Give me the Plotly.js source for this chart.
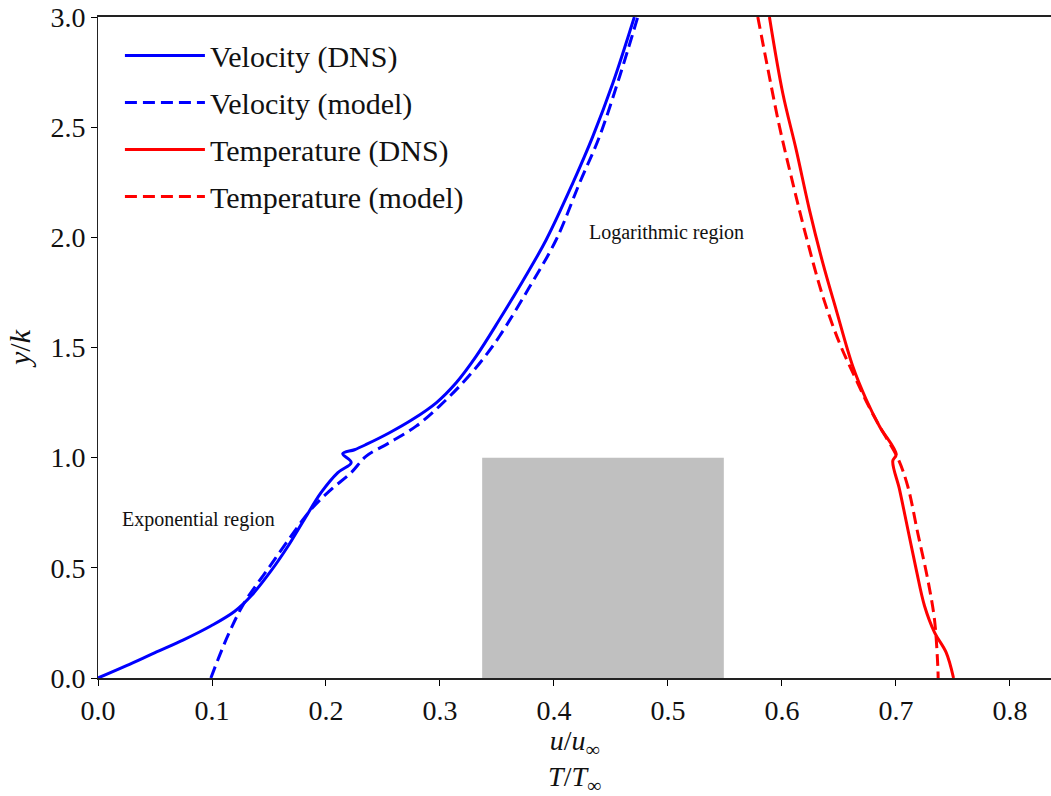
<!DOCTYPE html>
<html>
<head>
<meta charset="utf-8">
<script src="https://cdn.plot.ly/plotly-3.0.1.min.js"></script>
<style>html,body{margin:0;padding:0;background:#fff;}#chart{width:1051px;height:796px;}</style>
</head>
<body>
<div id="chart"></div>
<script>
// Velocity (DNS)
const velDnsX = [0, 0.025, 0.0496, 0.075, 0.0993, 0.12, 0.1344, 0.1519, 0.1665, 0.1811, 0.1958, 0.2104, 0.2221, 0.2147, 0.225, 0.2353, 0.2557, 0.2761, 0.2967, 0.3142, 0.3318, 0.3522, 0.3724, 0.3932, 0.4165, 0.434, 0.4516, 0.4705];
const velDnsY = [0, 0.056, 0.114, 0.173, 0.237, 0.303, 0.373, 0.487, 0.597, 0.721, 0.842, 0.932, 0.978, 1.018, 1.036, 1.060, 1.113, 1.174, 1.249, 1.340, 1.461, 1.627, 1.80, 1.989, 2.246, 2.457, 2.699, 3.0];
// Velocity (model)
const velModX = [0.099, 0.1139, 0.1285, 0.149, 0.1695, 0.187, 0.2046, 0.2221, 0.2353, 0.2557, 0.2791, 0.2996, 0.32, 0.3375, 0.3522, 0.378, 0.4019, 0.4224, 0.4399, 0.4575, 0.4735];
const velModY = [0, 0.192, 0.343, 0.494, 0.645, 0.766, 0.856, 0.932, 1.007, 1.068, 1.143, 1.234, 1.340, 1.446, 1.551, 1.77, 1.989, 2.246, 2.457, 2.729, 3.0];
// Temperature (DNS)
const tempDnsX = [0.589, 0.6007, 0.6125, 0.6241, 0.6358, 0.6475, 0.6621, 0.6739, 0.6855, 0.7002, 0.6972, 0.7031, 0.7104, 0.7177, 0.725, 0.7338, 0.744, 0.7505];
const tempDnsY = [3.0, 2.654, 2.397, 2.125, 1.884, 1.672, 1.415, 1.264, 1.143, 1.015, 0.985, 0.856, 0.675, 0.494, 0.328, 0.207, 0.116, 0];
// Temperature (model)
const tempModX = [0.5788, 0.5861, 0.5978, 0.6095, 0.6212, 0.6358, 0.6504, 0.6636, 0.6745, 0.6855, 0.7016, 0.7104, 0.7191, 0.7279, 0.7338, 0.7367, 0.737];
const tempModY = [3.0, 2.805, 2.503, 2.246, 2.004, 1.733, 1.521, 1.370, 1.25, 1.143, 0.998, 0.869, 0.658, 0.447, 0.265, 0.053, 0];

// Roughness element (grey block)
const blockX = [0.337, 0.549];
const blockY = [0, 1.0];

const seriesNames = ["Velocity (DNS)", "Velocity (model)", "Temperature (DNS)", "Temperature (model)"];
const regionLabels = ["Exponential region", "Logarithmic region"];
const regionX = [0.019, 0.429];
const regionY = [0.72, 2.02];

const SERIF = "Liberation Serif, Times New Roman, serif";
const DASH = "12px,6px";
const SM = 1.0;

const traces = [
  {x: velDnsX, y: velDnsY, name: seriesNames[0], legendgroup: "a", mode: "lines", line: {color: "#0000ff", width: 3, shape: "spline", smoothing: SM}},
  {x: velModX, y: velModY, name: seriesNames[1], legendgroup: "b", mode: "lines", line: {color: "#0000ff", width: 3, dash: DASH, shape: "spline", smoothing: SM}},
  {x: tempDnsX, y: tempDnsY, name: seriesNames[2], legendgroup: "c", mode: "lines", line: {color: "#ff0000", width: 3, shape: "spline", smoothing: SM}},
  {x: tempModX, y: tempModY, name: seriesNames[3], legendgroup: "d", mode: "lines", line: {color: "#ff0000", width: 3, dash: DASH, shape: "spline", smoothing: SM}}
];

const layout = {
  width: 1051, height: 796, autosize: false,
  margin: {l: 98, r: 0, t: 17, b: 118},
  paper_bgcolor: "#fff", plot_bgcolor: "#fff",
  font: {family: SERIF, color: "#000", size: 28},
  showlegend: true,
  legend: {x: 0.023, y: 0.981, xanchor: "left", yanchor: "top", bgcolor: "rgba(255,255,255,0)",
           font: {family: SERIF, size: 30, color: "#111"}, tracegroupgap: 5, itemwidth: 80},
  xaxis: {range: [0, 0.836], tick0: 0, dtick: 0.1, tickformat: ".1f", ticks: "outside", ticklen: 6, tickwidth: 1,
          tickcolor: "#000", showline: true, linecolor: "#222", linewidth: 2, mirror: true, showgrid: false, zeroline: false,
          tickfont: {family: SERIF, size: 28, color: "#111"},
          title: {text: "<i>u</i>/<i>u</i><sub>∞</sub><br><i>T</i>/<i>T</i><sub>∞</sub>", font: {family: SERIF, size: 28, color: "#111"}, standoff: 15}},
  yaxis: {range: [0, 3], tick0: 0, dtick: 0.5, tickformat: ".1f", ticks: "outside", ticklen: 6, tickwidth: 1,
          tickcolor: "#000", showline: true, linecolor: "#222", linewidth: 1, mirror: false, showgrid: false, zeroline: false,
          tickfont: {family: SERIF, size: 28, color: "#111"},
          title: {text: "<i>y</i>/<i>k</i>", font: {family: SERIF, size: 30, color: "#111"}, standoff: 10}},
  shapes: [
    {type: "rect", xref: "x", yref: "y", x0: blockX[0], x1: blockX[1], y0: blockY[0], y1: blockY[1],
     fillcolor: "#c0c0c0", line: {width: 0}, layer: "below"}
  ],
  annotations: regionLabels.map((t, i) => ({
    text: t, x: regionX[i], y: regionY[i], xref: "x", yref: "y", xanchor: "left", yanchor: "middle",
    showarrow: false, font: {family: SERIF, size: 20, color: "#111"}
  }))
};

Plotly.newPlot("chart", traces, layout, {displayModeBar: false, staticPlot: true});
</script>
</body>
</html>
